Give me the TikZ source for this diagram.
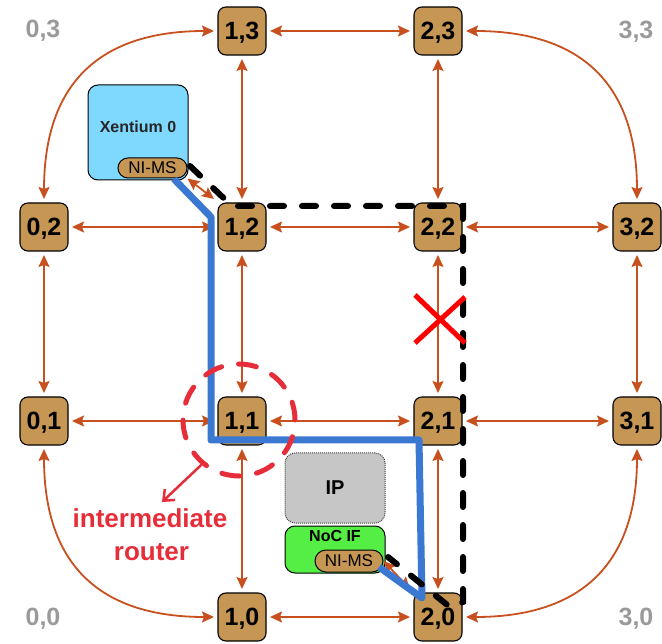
\documentclass[tikz,border=0pt]{standalone}
\usepackage{fontspec}
\setmainfont{Liberation Sans}
\usetikzlibrary{arrows.meta}
\definecolor{lnk}{HTML}{C8501E}
\definecolor{rtr}{HTML}{C69655}
\definecolor{xenc}{HTML}{7FD9FF}
\definecolor{ipg}{HTML}{C6C6C6}
\definecolor{nocg}{HTML}{55EE44}
\definecolor{pathblue}{HTML}{3A78D2}
\definecolor{lblred}{HTML}{E62E3A}
\definecolor{cgray}{HTML}{9A9A9A}
\begin{document}
\begin{tikzpicture}[x=1pt,y=-1pt,
  router/.style={draw=black,line width=1.1pt,fill=rtr,rounded corners=8pt,minimum width=48pt,minimum height=48pt,inner sep=0pt,outer sep=4pt,font=\fontsize{25}{25}\selectfont\bfseries,text depth=0pt},
  cornerlbl/.style={text=cgray,font=\fontsize{25}{25}\selectfont\bfseries,inner sep=0pt,text depth=0pt},
  link/.style={draw=lnk,line width=1.8pt,<->,>={Stealth[length=12pt,width=11pt,inset=2pt]}},
  pill/.style={draw=black,line width=1pt,fill=rtr,rounded corners=10pt,minimum width=69pt,minimum height=20pt,inner sep=0pt,font=\fontsize{17}{17}\selectfont,text depth=0pt},
  blockbox/.style={draw=black,line width=1pt,rounded corners=10pt,inner sep=0pt},
  smalltxt/.style={font=\fontsize{16}{16}\selectfont\bfseries,inner sep=0pt,text depth=0pt},
  redtxt/.style={font=\fontsize{26}{26}\selectfont\bfseries,text=lblred,inner sep=0pt,anchor=base},
  bluepath/.style={draw=pathblue,line width=7pt,line join=round},
  blackpath/.style={draw=black,line width=6pt,line cap=round,dash pattern=on 14pt off 18pt},
]
\useasboundingbox (0,0) rectangle (662,644);

% routers
\node[router] (r13) at (242,31) {1,3};
\node[router] (r23) at (438,31) {2,3};
\node[router] (r02) at (44,227) {0,2};
\node[router] (r12) at (242,227) {1,2};
\node[router] (r22) at (438,227) {2,2};
\node[router] (r32) at (637,227) {3,2};
\node[router] (r01) at (44,421) {0,1};
\node[router] (r11) at (242,421) {1,1};
\node[router] (r21) at (438,421) {2,1};
\node[router] (r31) at (637,421) {3,1};
\node[router] (r10) at (242,617) {1,0};
\node[router] (r20) at (438,617) {2,0};

% corner labels
\node[cornerlbl] (c03) at (43,29) {0,3};
\node[cornerlbl] (c33) at (636,30) {3,3};
\node[cornerlbl] (c00) at (43,617) {0,0};
\node[cornerlbl] (c30) at (636,617) {3,0};

% links
\draw[link] (r13) -- (r23);
\draw[link] (r02) -- (r12);
\draw[link] (r12) -- (r22);
\draw[link] (r22) -- (r32);
\draw[link] (r01) -- (r11);
\draw[link] (r11) -- (r21);
\draw[link] (r21) -- (r31);
\draw[link] (r10) -- (r20);
\draw[link] (r13) -- (r12);
\draw[link] (r12) -- (r11);
\draw[link] (r11) -- (r10);
\draw[link] (r23) -- (r22);
\draw[link] (r22) -- (r21);
\draw[link] (r21) -- (r20);
\draw[link] (r02) -- (r01);
\draw[link] (r32) -- (r31);
\draw[link] (r02.north) .. controls +(0,-115) and +(-115,0) .. (r13.west);
\draw[link] (r23.east) .. controls +(115,0) and +(0,-115) .. (r32.north);
\draw[link] (r01.south) .. controls +(0,115) and +(-115,0) .. (r10.west);
\draw[link] (r31.south) .. controls +(0,115) and +(115,0) .. (r20.east);

% processing elements
\node[blockbox,fill=xenc,minimum width=100pt,minimum height=95pt] (xen) at (138,132.5) {};
\node[smalltxt,text=black!85] (xentxt) at (138,127) {Xentium 0};
\node[pill] (xni) at (152.5,168) {NI-MS};

\node[blockbox,draw=black!75,densely dotted,fill=ipg,minimum width=100pt,minimum height=70pt,font=\fontsize{20}{20}\selectfont\bfseries,text depth=0pt] (ip) at (335,488) {IP};
\node[blockbox,fill=nocg,minimum width=100pt,minimum height=47pt] (noc) at (335,549.5) {};
\node[smalltxt] (noctxt) at (335,536) {NoC IF};
\node[pill,minimum width=68pt,minimum height=22pt,rounded corners=11pt] (nni) at (349,561) {NI-MS};

\draw[link] (xni.south east) -- (r12.north west);
\draw[link] (nni.east) -- (r20.north west);

% blue route
\coordinate (b0) at (174,179);
\coordinate (b1) at (211,217);
\coordinate (b2) at (211,440);
\coordinate (b3) at (419,440);
\coordinate (b4) at (422,598);
\coordinate (b5) at (379,567);
\draw[bluepath] (b0) -- (b1) -- (b2) -- (b3) -- (b4) -- (b5);

% black dashed route
\coordinate (k0) at (190,166);
\coordinate (k1) at (232,206);
\coordinate (k2) at (463,206);
\coordinate (k3) at (463,602);
\coordinate (k4) at (451,608);
\coordinate (k5) at (388,557);
\draw[blackpath] (k0) -- (k1) -- (k2) -- (k3) -- (k4) -- (k5);

% intermediate router marker
\node[circle,draw=lblred,line width=5pt,line cap=round,dash pattern=on 18pt off 17.2pt,minimum size=112pt,inner sep=0pt] (ring) at (239,420) {};
\node[redtxt] (im1) at (150,527) {intermediate};
\node[redtxt] (im2) at (151.5,560) {router};
\coordinate (arrend) at (162,502);
\draw[draw=lblred,line width=2.5pt,-{Straight Barb[length=9pt,width=15pt]}] (ring.-130) -- (arrend);

% broken link cross
\coordinate (x1) at (415,295);
\coordinate (x2) at (465,343);
\coordinate (x3) at (465,297);
\coordinate (x4) at (415,343);
\draw[draw=red,line width=5pt] (x1) -- (x2) (x3) -- (x4);
\end{tikzpicture}
\end{document}
